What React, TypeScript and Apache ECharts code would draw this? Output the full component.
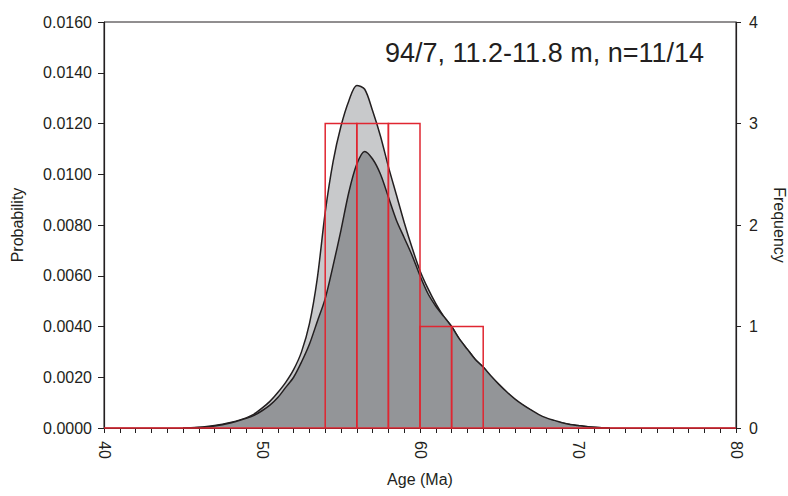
import React, { useEffect, useRef } from "react";
import * as echarts from "echarts";

const ages = [45.0, 45.5, 46.0, 46.5, 47.0, 47.5, 48.0, 48.5, 49.0, 49.5, 50.0, 50.5, 51.0, 51.5, 52.0, 52.5, 53.0, 53.5, 54.0, 54.5, 55.0, 55.5, 56.0, 56.5, 57.0, 57.5, 58.0, 58.5, 59.0, 59.5, 60.0, 60.5, 61.0, 61.5, 62.0, 62.5, 63.0, 63.5, 64.0, 64.5, 65.0, 65.5, 66.0, 66.5, 67.0, 67.5, 68.0, 68.5, 69.0, 69.5, 70.0, 70.5, 71.0, 71.5, 72.0];

const probAll = [0, 0.00001, 0.00003, 0.00006, 0.0001, 0.00015, 0.00022, 0.0003, 0.0004, 0.00055, 0.00078, 0.00105, 0.0014, 0.0018, 0.0023, 0.0030, 0.0041, 0.0059, 0.0085, 0.0105, 0.0119, 0.0129, 0.0135, 0.01335, 0.0125, 0.0115, 0.0103, 0.0092, 0.0081, 0.0071, 0.0062, 0.0055, 0.0049, 0.0044, 0.0040, 0.0035, 0.0031, 0.0027, 0.0024, 0.0020, 0.0017, 0.0014, 0.0011, 0.0009, 0.0007, 0.0005, 0.00037, 0.00027, 0.0002, 0.00014, 0.0001, 0.00006, 0.00003, 0.00001, 0];

const probSel = [0, 0.000005, 0.00002, 0.00004, 0.00008, 0.00013, 0.0002, 0.00028, 0.00038, 0.0005, 0.00068, 0.0009, 0.0012, 0.0016, 0.0020, 0.0026, 0.0033, 0.0042, 0.0051, 0.0064, 0.0078, 0.0093, 0.0104, 0.0109, 0.0106, 0.0100, 0.0091, 0.0082, 0.0075, 0.0068, 0.0060, 0.0053, 0.0048, 0.0044, 0.0040, 0.0035, 0.0031, 0.0027, 0.0024, 0.00205, 0.00172, 0.00142, 0.00115, 0.00092, 0.00072, 0.00054, 0.0004, 0.0003, 0.00021, 0.00014, 0.0001, 0.00006, 0.00003, 0.00001, 0];

const binStarts = [40, 42, 44, 46, 48, 50, 52, 54, 56, 58, 60, 62, 64, 66, 68, 70, 72, 74, 76, 78];
const binCounts = [0, 0, 0, 0, 0, 0, 0, 3, 3, 3, 1, 1, 0, 0, 0, 0, 0, 0, 0, 0];
const binWidth = 2;

const titleText = "94/7, 11.2-11.8 m, n=11/14";

const FONT = "'Liberation Sans', Arial, Helvetica, sans-serif";
const INK = "#231F20";
const RED = "#E02631";

export default function App() {
  const ref = useRef<HTMLDivElement>(null);
  useEffect(() => {
    if (!ref.current) return;
    const chart = echarts.init(ref.current, null, { renderer: "svg", width: 788, height: 496 });
    const histData = binStarts.map((b, i) => [b, b + binWidth, binCounts[i]]);
    chart.setOption({
      animation: false,
      backgroundColor: "#ffffff",
      textStyle: { fontFamily: FONT, color: INK },
      grid: {
        left: 104,
        right: 52,
        top: 22,
        bottom: 68,
        show: true,
        borderColor: INK,
        borderWidth: 1,
        backgroundColor: "transparent",
        containLabel: false,
        outerBoundsMode: "none",
      },
      graphic: [
        {
          type: "text",
          right: 84,
          top: 39,
          style: {
            text: titleText,
            font: `27px ${FONT}`,
            fill: INK,
          },
          z: 100,
        },
      ],
      xAxis: {
        type: "value",
        min: 40,
        max: 80,
        interval: 10,
        name: "Age (Ma)",
        nameLocation: "middle",
        nameGap: 43,
        nameTextStyle: { fontSize: 16, color: INK, fontFamily: FONT },
        axisLine: { show: true, lineStyle: { color: INK, width: 1.2 } },
        axisTick: { show: true, length: 5, lineStyle: { color: INK } },
        minorTick: { show: true, splitNumber: 10, length: 5, lineStyle: { color: INK } },
        splitLine: { show: false },
        minorSplitLine: { show: false },
        axisLabel: {
          rotate: -90,
          margin: 13,
          fontSize: 16,
          color: INK,
          fontFamily: FONT,
          showMinLabel: true,
          showMaxLabel: true,
        },
      },
      yAxis: [
        {
          type: "value",
          min: 0,
          max: 0.016,
          interval: 0.002,
          position: "left",
          name: "Probability",
          nameLocation: "middle",
          nameRotate: 90,
          nameGap: 79,
          nameTextStyle: { fontSize: 16, color: INK, fontFamily: FONT },
          axisLine: { show: true, lineStyle: { color: INK, width: 1.2 } },
          axisTick: { show: true, length: 6, lineStyle: { color: INK } },
          splitLine: { show: false },
          axisLabel: {
            margin: 12,
            fontSize: 16,
            color: INK,
            fontFamily: FONT,
            formatter: (v: number) => v.toFixed(4),
          },
        },
        {
          type: "value",
          min: 0,
          max: 4,
          interval: 1,
          position: "right",
          name: "Frequency",
          nameLocation: "middle",
          nameRotate: -90,
          nameGap: 35,
          nameTextStyle: { fontSize: 16, color: INK, fontFamily: FONT },
          axisLine: { show: true, lineStyle: { color: INK, width: 1.2 } },
          axisTick: { show: true, length: 5, lineStyle: { color: INK } },
          splitLine: { show: false },
          axisLabel: {
            margin: 13,
            fontSize: 16,
            color: INK,
            fontFamily: FONT,
          },
        },
      ],
      series: [
        {
          type: "line",
          name: "all",
          data: ages.map((a, i) => [a, probAll[i]]),
          yAxisIndex: 0,
          smooth: 0.3,
          showSymbol: false,
          symbol: "none",
          lineStyle: { color: INK, width: 1.5 },
          areaStyle: { color: "#C8C9CB", opacity: 1 },
          z: 2,
        },
        {
          type: "line",
          name: "selected",
          data: ages.map((a, i) => [a, probSel[i]]),
          yAxisIndex: 0,
          smooth: 0.3,
          showSymbol: false,
          symbol: "none",
          lineStyle: { color: INK, width: 1.5 },
          areaStyle: { color: "#939598", opacity: 1 },
          z: 3,
        },
        {
          type: "custom",
          name: "histogram",
          yAxisIndex: 1,
          data: histData,
          encode: { x: [0, 1], y: 2 },
          z: 5,
          renderItem: (params: any, api: any) => {
            const x0 = api.value(0);
            const x1 = api.value(1);
            const c = api.value(2);
            const p0 = api.coord([x0, 0]);
            const p1 = api.coord([x1, c]);
            if (!c) {
              return {
                type: "line",
                shape: { x1: p0[0], y1: p0[1], x2: p1[0], y2: p0[1] },
                style: { stroke: RED, lineWidth: 1.5 },
              };
            }
            return {
              type: "rect",
              shape: { x: p0[0], y: p1[1], width: p1[0] - p0[0], height: p0[1] - p1[1] },
              style: { fill: "none", stroke: RED, lineWidth: 1.5 },
            };
          },
        },
      ],
    });
    return () => chart.dispose();
  }, []);
  return (
    <div
      ref={ref}
      style={{ position: "fixed", left: 0, top: 0, width: 788, height: 496, background: "#fff" }}
    />
  );
}
